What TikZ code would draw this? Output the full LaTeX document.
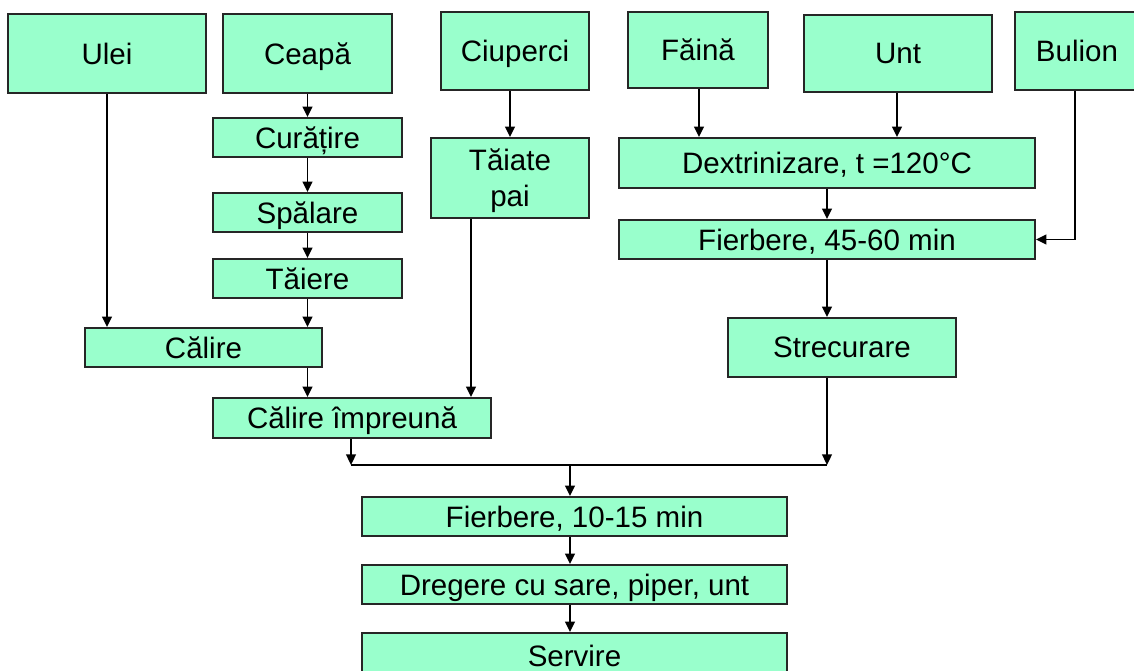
\documentclass[tikz,border=0pt]{standalone}
\usepackage{fontspec}
\setmainfont{Liberation Sans}
\usetikzlibrary{calc,arrows.meta}
\definecolor{mint}{RGB}{153,255,204}
\tikzset{
	box/.style 2 args={draw=black!85, line width=1pt, fill=mint, inner sep=0pt,
		minimum width=#1*0.02cm, minimum height=#2*0.02cm, align=center,
		text depth=0pt, font=\fontsize{16.8}{20.5}\selectfont},
	arr/.style={line width=1.1pt, -{Triangle[length=6pt,width=5.5pt]}},
	ln/.style={line width=1.1pt}
}

\begin{document}
\begin{tikzpicture}[x=0.02cm, y=-0.02cm]
		%%%%% START %%%%%
		\useasboundingbox (0, 0) rectangle (1134, 671);
		
		% raw materials
		\node[box={198}{79}] (ulei) at (107, 53.5) {Ulei};
		\node[box={169}{79}] (ceapa) at (307.5, 53.5) {Ceapă};
		\node[box={148}{78}] (ciuperci) at (515, 51) {Ciuperci};
		\node[box={140}{76}] (faina) at (698, 50) {Făină};
		\node[box={188}{77}] (unt) at (898, 53.5) {Unt};
		\node[box={124}{78}, text width=100*0.02cm] (bulion) at (1077, 51) {Bulion};
		
		% onion line
		\node[box={189}{39}] (curatire) at (307.5, 137.5) {Curățire};
		\node[box={189}{39}] (spalare) at (307.5, 212.5) {Spălare};
		\node[box={189}{39}] (taiere) at (307.5, 278.5) {Tăiere};
		\node[box={237}{39}] (calire) at (203.5, 347.5) {Călire};
		\node[box={158}{80}] (taiate) at (510, 178) {Tăiate\\pai};
		\node[box={278}{40}] (impreuna) at (352, 418) {Călire împreună};
		
		% sauce line
		\node[box={416}{50}] (dextr) at (827, 163) {Dextrinizare, t =120°C};
		\node[box={416}{39}] (fierb1) at (827, 239.5) {Fierbere, 45-60 min};
		\node[box={228}{59}] (strec) at (842, 347.5) {Strecurare};
		
		% final
		\node[box={425}{39}] (fierb2) at (574.5, 516.5) {Fierbere, 10-15 min};
		\node[box={425}{39}] (dregere) at (574.5, 584.5) {Dregere cu sare, piper, unt};
		\node[box={425}{46}] (servire) at (574.5, 656) {Servire};
		
		\coordinate (jl) at (351, 465);
		\coordinate (jm) at (570, 465);
		\coordinate (jr) at (827, 465);
		
		\draw[arr] (ulei.south) -- (ulei.south |- calire.north);
		\draw[arr] (ceapa.south) -- (curatire.north);
		\draw[arr] (curatire.south) -- (spalare.north);
		\draw[arr] (spalare.south) -- (taiere.north);
		\draw[arr] (taiere.south) -- (taiere.south |- calire.north);
		\draw[arr] (calire.south -| taiere.south) -- (taiere.south |- impreuna.north);
		\draw[arr] (ciuperci.south -| taiate.north) -- (taiate.north);
		\draw[arr] ($(taiate.south)+(-39, 0)$) -- ($(taiate.south |- impreuna.north)+(-39, 0)$);
		
		\draw[arr] ($(faina.south)+(1, 0)$) -- ($(faina.south |- dextr.north)+(1, 0)$);
		\draw[arr] ($(unt.south)+(-1, 0)$) -- ($(unt.south |- dextr.north)+(-1, 0)$);
		\draw[arr] (dextr.south) -- (fierb1.north);
		\draw[arr] ($(bulion.south)+(-2, 0)$) |- (fierb1.east);
		\draw[arr] (fierb1.south) -- (fierb1.south |- strec.north);
		
		\draw[arr] (strec.south -| jr) -- (jr);
		\draw[arr] (impreuna.south -| jl) -- (jl);
		\draw[ln] (jl) -- (jr);
		\draw[arr] (jm) -- (jm |- fierb2.north);
		\draw[arr] (fierb2.south -| jm) -- (jm |- dregere.north);
		\draw[arr] (dregere.south -| jm) -- (jm |- servire.north);
		
		%%%%% END %%%%%
	\end{tikzpicture}
\end{document}
